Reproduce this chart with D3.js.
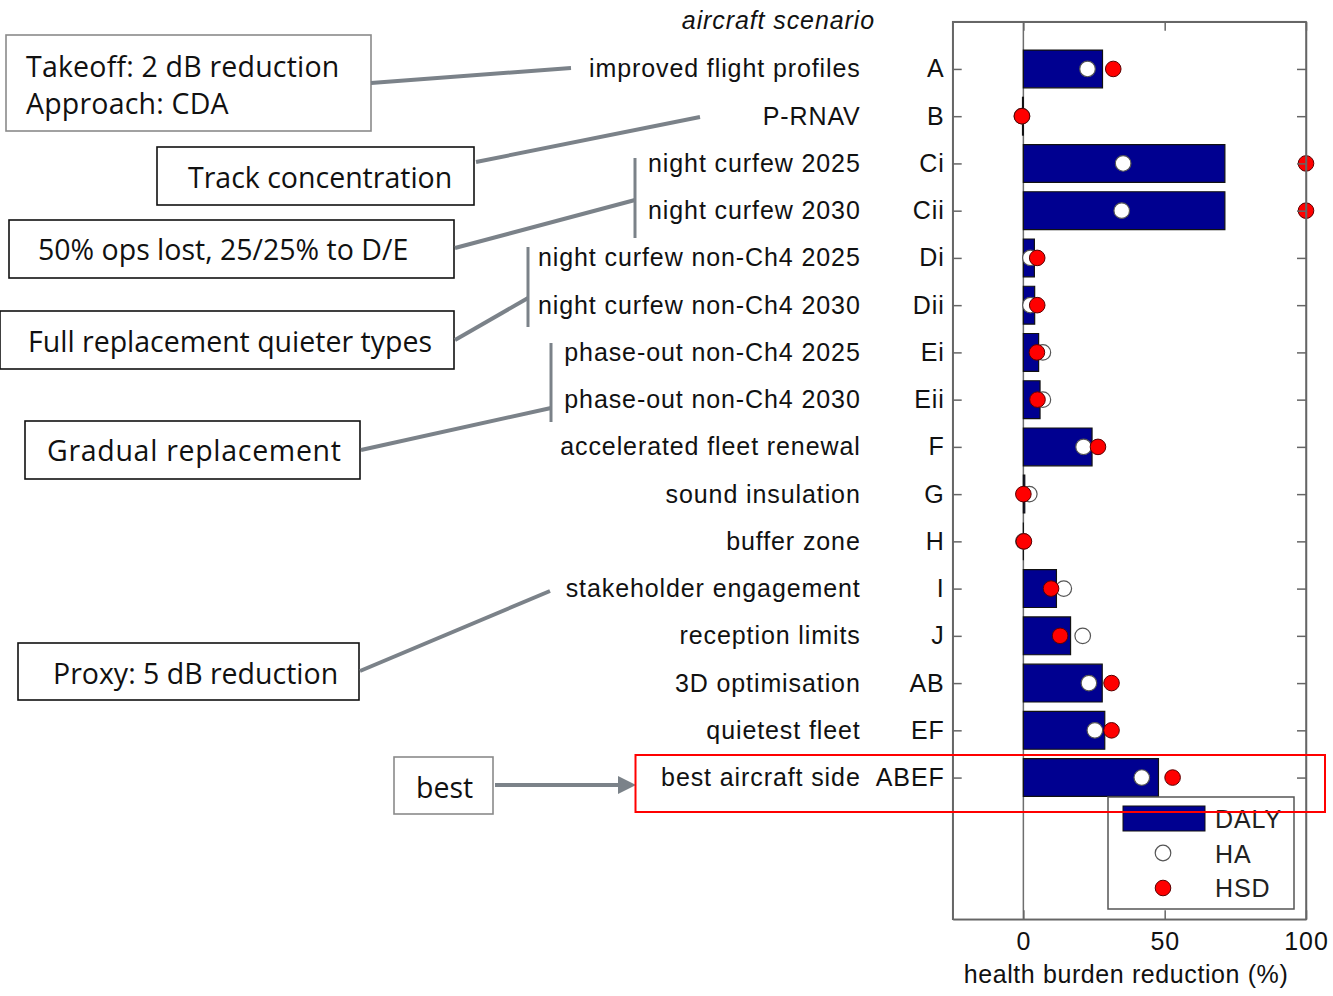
<!DOCTYPE html>
<html><head><meta charset="utf-8">
<script src="https://cdn.jsdelivr.net/npm/d3@7"></script>
<style>
html,body{margin:0;padding:0;background:#fff;}
svg{display:block;}
</style></head>
<body>
<svg id="chart" width="1333" height="996"></svg>
<script>
const codes = ["A","B","Ci","Cii","Di","Dii","Ei","Eii","F","G","H","I","J","AB","EF","ABEF"];
const names = ["improved flight profiles","P-RNAV","night curfew 2025","night curfew 2030",
  "night curfew non-Ch4 2025","night curfew non-Ch4 2030","phase-out non-Ch4 2025","phase-out non-Ch4 2030",
  "accelerated fleet renewal","sound insulation","buffer zone","stakeholder engagement",
  "reception limits","3D optimisation","quietest fleet","best aircraft side"];
const daly = [28.0, -0.3, 71.3, 71.3, 3.9, 4.0, 5.4, 5.9, 24.3, 0.5, 0.0, 11.7, 16.7, 27.9, 28.8, 47.8];
const ha   = [22.7, -0.5, 35.3, 34.8, 2.5, 2.5, 6.9, 6.9, 21.3, 2.1, 0.0, 14.3, 21.0, 23.2, 25.3, 41.9];
const hsd  = [31.8, -0.5, 100, 100, 4.9, 4.9, 4.8, 5.0, 26.4, 0.0, 0.2, 9.8, 13.0, 31.2, 31.2, 52.8];
const xTicks = [0, 50, 100];
const seriesNames = ["DALY","HA","HSD"];
const axisTitle = "health burden reduction (%)";
const headerTitle = "aircraft scenario";
const annotTexts = [
  ["Takeoff: 2 dB reduction","Approach: CDA"],
  ["Track concentration"],
  ["50% ops lost, 25/25% to D/E"],
  ["Full replacement quieter types"],
  ["Gradual replacement"],
  ["Proxy: 5 dB reduction"],
  ["best"]
];

const svg = d3.select("#chart");
const FONT = "'Liberation Sans', Arial, Helvetica, sans-serif";
const AFONT = "'Open Sans', 'Noto Sans', sans-serif";
const L = 952.7, R = 1306, T = 21.7, B = 919.3;
const x = d3.scaleLinear().domain([-25, 100]).range([L, R]);
const y = d3.scaleLinear().domain([0, 19]).range([T, B]);
const rows = d3.range(codes.length);
const half = (y(1) - y(0)) * 0.4;
const grey = "#7b8289";

// zero line
svg.append("line").attr("x1", x(0)).attr("x2", x(0)).attr("y1", T).attr("y2", B)
  .attr("stroke", "#6e6e6e").attr("stroke-width", 1.5);

// bars (paths so zero-width bars still show their edge)
svg.append("g").selectAll("path").data(rows).join("path")
  .attr("d", i => {
    const x0 = x(0), x1 = x(daly[i]), y0 = y(i + 1) - half, y1 = y(i + 1) + half;
    return `M${x0},${y0}H${x1}V${y1}H${x0}Z`;
  })
  .attr("fill", "#000090").attr("stroke", "#111").attr("stroke-width", 1.2);

// HA markers
svg.append("g").selectAll("circle").data(rows).join("circle")
  .attr("cx", i => x(ha[i])).attr("cy", i => y(i + 1)).attr("r", 7.8)
  .attr("fill", "#fff").attr("stroke", "#555").attr("stroke-width", 1.2);
// HSD markers
svg.append("g").selectAll("circle").data(rows).join("circle")
  .attr("cx", i => x(hsd[i])).attr("cy", i => y(i + 1)).attr("r", 7.8)
  .attr("fill", "#ff0000").attr("stroke", "#5a0000").attr("stroke-width", 1);

// axes
const tickVals = rows.map(i => i + 1);
const yLeft = svg.append("g").attr("transform", `translate(${L},0)`)
  .call(d3.axisLeft(y).tickValues(tickVals).tickFormat(d => codes[d - 1]).tickSizeInner(-9).tickSizeOuter(0).tickPadding(8));
const yNames = svg.append("g").attr("transform", `translate(${L},0)`)
  .call(d3.axisLeft(y).tickValues(tickVals).tickFormat(d => names[d - 1]).tickSize(0).tickPadding(92));
yNames.select(".domain").remove();
yNames.selectAll("line").remove();
const yRight = svg.append("g").attr("transform", `translate(${R},0)`)
  .call(d3.axisRight(y).tickValues(tickVals).tickFormat("").tickSizeInner(-9).tickSizeOuter(0));
const xBottom = svg.append("g").attr("transform", `translate(0,${B})`)
  .call(d3.axisBottom(x).tickValues(xTicks).tickFormat(d3.format("d")).tickSizeInner(-9).tickSizeOuter(0).tickPadding(13));
const xTop = svg.append("g").attr("transform", `translate(0,${T})`)
  .call(d3.axisTop(x).tickValues(xTicks).tickFormat("").tickSizeInner(-9).tickSizeOuter(0));
[yLeft, yNames, yRight, xBottom, xTop].forEach(g => {
  g.selectAll(".domain").attr("stroke", "#666").attr("stroke-width", 1.5);
  g.selectAll("line").attr("stroke", "#666").attr("stroke-width", 1.5);
  g.selectAll("text").attr("fill", "#111").style("font-family", FONT).style("font-size", "25px").style("letter-spacing", "0.9px");
});

// frame
svg.append("rect").attr("x", L).attr("y", T).attr("width", R - L).attr("height", B - T)
  .attr("fill", "none").attr("stroke", "#666").attr("stroke-width", 1.5);

// titles
svg.append("text").attr("x", 1126).attr("y", 983).attr("text-anchor", "middle")
  .style("font-family", FONT).style("font-size", "25px").style("letter-spacing", "0.6px").attr("fill", "#111").text(axisTitle);
svg.append("text").attr("x", 875).attr("y", 29).attr("text-anchor", "end")
  .style("font-family", FONT).style("font-size", "25px").style("font-style", "italic").style("letter-spacing", "0.9px")
  .attr("fill", "#111").text(headerTitle);

// legend
const lg = svg.append("g");
lg.append("rect").attr("x", 1108).attr("y", 797).attr("width", 186).attr("height", 112)
  .attr("fill", "#fff").attr("stroke", "#555").attr("stroke-width", 1.5);
lg.append("rect").attr("x", 1123).attr("y", 806).attr("width", 82).attr("height", 25)
  .attr("fill", "#000090").attr("stroke", "#111").attr("stroke-width", 1);
lg.append("circle").attr("cx", 1163).attr("cy", 853).attr("r", 7.8).attr("fill", "#fff").attr("stroke", "#555").attr("stroke-width", 1.2);
lg.append("circle").attr("cx", 1163).attr("cy", 888).attr("r", 7.8).attr("fill", "#ff0000").attr("stroke", "#5a0000");
lg.selectAll("text").data(seriesNames).join("text")
  .attr("x", 1215).attr("y", (d, i) => 828 + i * 34.5)
  .style("font-family", FONT).style("font-size", "25px").style("letter-spacing", "0.9px").attr("fill", "#222").text(d => d);

// annotations
const ann = svg.append("g");
function box(x0, y0, w, h, stroke) {
  ann.append("rect").attr("x", x0).attr("y", y0).attr("width", w).attr("height", h)
    .attr("fill", "#fff").attr("stroke", stroke).attr("stroke-width", 1.6);
}
function txt(x0, y0, s, ls) {
  ann.append("text").attr("x", x0).attr("y", y0).style("font-family", AFONT).style("font-size", "28.5px")
    .style("letter-spacing", (ls || 0) + "px").attr("fill", "#111").text(s);
}
function seg(x1, y1, x2, y2, w) {
  ann.append("line").attr("x1", x1).attr("y1", y1).attr("x2", x2).attr("y2", y2)
    .attr("stroke", grey).attr("stroke-width", w || 4);
}
// 1
box(6, 35, 365, 96, "#8a8a8a");
txt(26, 77, annotTexts[0][0], 0.2); txt(26, 114, annotTexts[0][1], 0.2);
seg(371, 83, 571, 68);
// 2
box(157, 147, 317, 58, "#111");
txt(188, 188, annotTexts[1][0]);
seg(476, 162, 700, 117);
// 3
box(9, 220, 445, 58, "#111");
txt(38, 260, annotTexts[2][0]);
seg(455, 248, 635, 200); seg(635, 158, 635, 238, 3);
// 4
box(0, 311, 454, 58, "#111");
txt(28, 352, annotTexts[3][0]);
seg(455, 340, 528, 298); seg(528, 247, 528, 327, 3);
// 5
box(25, 421, 335, 58, "#111");
txt(47, 461, annotTexts[4][0], 0.7);
seg(361, 450, 551, 408); seg(551, 343, 551, 422, 3);
// 6
box(18, 643, 341, 57, "#111");
txt(53, 684, annotTexts[5][0]);
seg(360, 671, 550, 591);
// 7 best
box(394, 757, 99, 57, "#8a8a8a");
txt(416, 798, annotTexts[6][0]);
seg(495, 785, 620, 785, 4);
ann.append("path").attr("d", "M618,776L636,785L618,794Z").attr("fill", grey);

// red highlight box
svg.append("rect").attr("x", 635.5).attr("y", 755).attr("width", 689.5).attr("height", 57)
  .attr("fill", "none").attr("stroke", "#ff0000").attr("stroke-width", 2);
</script>
</body></html>
